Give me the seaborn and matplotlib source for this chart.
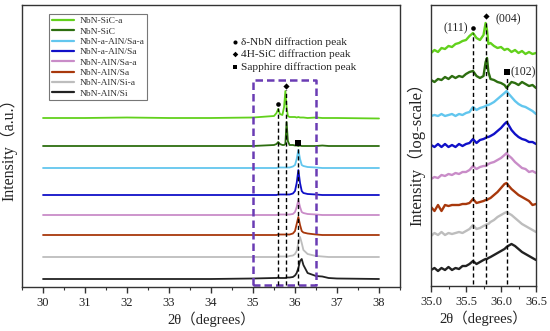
import numpy as np
import pandas as pd
import matplotlib
matplotlib.use("Agg")
import matplotlib.pyplot as plt
import seaborn as sns

sns.set_theme(style="white")
plt.rcParams['font.family'] = ['Liberation Serif', 'Noto Sans CJK SC']
plt.rcParams['axes.unicode_minus'] = False

# ---------------- data ----------------
samples = ["NbN-SiC-a", "NbN-SiC", "NbN-a-AlN/Sa-a", "NbN-a-AlN/Sa",
           "NbN-AlN/Sa-a", "NbN-AlN/Sa", "NbN-AlN/Si-a", "NbN-AlN/Si"]
colors = ["#62d11c", "#2d6e10", "#62c6ee", "#1010c8",
          "#c98cc8", "#a8380c", "#bdbdbd", "#222222"]

# left panel (stacked, a.u.)
x_left = [30.0, 31.0, 32.0, 33.0, 34.0, 35.0, 35.5, 35.56, 35.6, 35.64, 35.7, 35.74,
          35.77, 35.8, 35.83, 35.87, 35.95, 36.0, 36.04, 36.08, 36.12, 36.16, 36.2,
          36.3, 36.5, 36.65, 36.8, 37.0, 38.0]
y_left = {
    "NbN-SiC-a":      [169, 169, 169.5, 169, 169, 169.5, 171, 174, 178, 173, 172, 180, 196, 180, 171, 170, 170, 170, 169.5, 170, 169.5, 169.5, 169.5, 169, 169.5, 169, 169, 169, 168.5],
    "NbN-SiC":        [141, 141, 141, 141, 141, 141, 142, 143, 145, 143, 142, 142, 143, 165, 146, 142, 142, 141.5, 141.5, 141, 141.5, 141, 141, 141, 141, 141.5, 141, 141, 141],
    "NbN-a-AlN/Sa-a": [119, 119, 119, 119, 119, 119, 119, 119, 119.5, 119.5, 119.5, 119.5, 119.5, 119.5, 119.5, 119.5, 120.5, 122, 128, 137, 128, 122, 121, 120, 119.5, 119, 119, 119, 119],
    "NbN-a-AlN/Sa":   [92, 92, 92, 92, 92, 92, 92, 92, 92.5, 92.5, 92.5, 92.5, 92.5, 92.5, 92.5, 92.5, 93.5, 96, 104, 117, 104, 96, 94, 93, 92.5, 92, 92, 92, 92],
    "NbN-AlN/Sa-a":   [72, 72, 72, 72, 72, 72, 72, 72, 72.5, 72.5, 72.5, 72.5, 72.5, 72.5, 72.5, 72.5, 73, 75, 80, 87, 80, 75, 74, 73, 72.5, 72, 72, 72, 72],
    "NbN-AlN/Sa":     [52, 52, 52, 52, 52, 52, 52, 52, 52.5, 52.5, 52.5, 52.5, 52.5, 52.5, 52.5, 52.5, 53.5, 56, 63, 70, 62, 56, 54.5, 53.5, 52.5, 52, 52, 52, 52],
    "NbN-AlN/Si-a":   [30, 30, 30, 30, 30, 30, 30, 30, 30.5, 30.5, 30.5, 30.5, 30.5, 30.5, 30.5, 31, 31.5, 33, 36, 44, 50, 44, 37, 33, 31, 30.5, 30, 30, 30],
    "NbN-AlN/Si":     [8, 8, 8, 8, 8, 8.5, 9, 9, 9.5, 9, 9, 9, 9, 9.5, 9.5, 9.5, 10, 11.5, 14, 19, 26, 28, 22, 14, 11, 10.5, 9, 8.5, 8],
}

# right panel (log-scale, stacked)
x_right = [35.00, 35.05, 35.10, 35.15, 35.20, 35.25, 35.30, 35.35, 35.40, 35.45, 35.50,
           35.55, 35.60, 35.65, 35.70, 35.75, 35.78, 35.80, 35.82, 35.85, 35.90, 35.95,
           36.00, 36.05, 36.08, 36.10, 36.15, 36.20, 36.25, 36.30, 36.35, 36.40, 36.45, 36.50]
y_right = {
    "NbN-SiC-a":      [233, 236, 234, 238, 237, 240, 239, 242, 243, 245, 246, 250, 253, 248, 246, 251, 263, 256, 242, 243, 240, 238, 239, 236, 237, 237, 234, 236, 233, 235, 232, 234, 232, 233],
    "NbN-SiC":        [206, 204, 207, 206, 209, 207, 210, 208, 210, 209, 212, 214, 215, 210, 208, 210, 224, 228, 214, 207, 206, 204, 203, 201, 198, 200, 204, 203, 201, 204, 202, 200, 201, 198],
    "NbN-a-AlN/Sa-a": [170, 171, 170, 172, 170, 171, 172, 170, 172, 171, 173, 174, 179, 176, 178, 179, 180, 181, 181, 182, 184, 187, 190, 193, 195, 193, 189, 185, 182, 180, 179, 177, 175, 172],
    "NbN-a-AlN/Sa":   [141, 139, 142, 139, 142, 139, 141, 139, 142, 140, 142, 143, 147, 143, 146, 147, 148, 149, 149, 150, 152, 155, 158, 162, 164, 162, 156, 152, 149, 147, 146, 144, 144, 142],
    "NbN-AlN/Sa-a":   [107, 109, 108, 111, 110, 112, 111, 113, 112, 114, 114, 116, 120, 117, 119, 120, 120, 121, 122, 123, 124, 126, 128, 131, 133, 131, 128, 124, 121, 118, 117, 114, 115, 113],
    "NbN-AlN/Sa":     [79, 75, 81, 75, 81, 80, 81, 81, 81, 82, 82, 83, 87, 83, 84, 85, 86, 86, 87, 88, 91, 94, 98, 102, 103, 101, 97, 94, 91, 89, 87, 85, 81, 82],
    "NbN-AlN/Si-a":   [50, 53, 51, 54, 51, 53, 52, 53, 54, 53, 55, 57, 61, 57, 58, 60, 61, 62, 62, 64, 66, 69, 71, 73, 74, 73, 71, 68, 65, 62, 60, 58, 56, 54],
    "NbN-AlN/Si":     [16, 18, 15, 18, 16, 19, 16, 18, 17, 20, 20, 22, 25, 22, 24, 26, 27, 27, 28, 29, 31, 33, 35, 37, 39, 40, 42, 40, 37, 34, 32, 30, 28, 26],
}

# reference peak positions / marker heights
peak_x = [35.6, 35.78, 36.08]
left_marker_y = [183, 201, 144]
right_marker_y = [258, 270, 214]
right_peak_labels = ["(111)", "(004)", "(102)"]
peak_names = ["δ-NbN diffraction peak", "4H-SiC diffraction peak", "Sapphire diffraction peak"]
peak_markers = ["o", "D", "s"]
marker_sizes = [11, 10, 13]
left_xticks = [30, 31, 32, 33, 34, 35, 36, 37, 38]
right_xticks = [35.0, 35.5, 36.0, 36.5]

# ---------------- figure ----------------
fig = plt.figure(figsize=(5.5, 3.31), dpi=100)
axL = fig.add_axes([22/550, 44/331, 378/550, 282/331])
axR = fig.add_axes([431/550, 45/331, 105/550, 281/331])

spine_c = "#333333"
txt_c = "#222222"
for ax in (axL, axR):
    for s in ax.spines.values():
        s.set_color(spine_c)
        s.set_linewidth(1.0)

# left panel curves
for name, c in zip(samples, colors):
    df = pd.DataFrame({"x": x_left, "y": y_left[name]})
    sns.lineplot(data=df, x="x", y="y", color=c, lw=1.3, ax=axL,
                 label=name, sort=False, estimator=None)

axL.set_xlim(29.5, 38.5)
axL.set_ylim(0, 282)
axL.set_yticks([])
axL.set_xticks(left_xticks)
axL.set_xticklabels([str(t) for t in left_xticks], fontsize=9, color=txt_c)
axL.set_xticks(np.arange(29.5, 38.6, 0.5), minor=True)
axL.tick_params(axis="x", which="major", direction="out", length=4, width=1, color=spine_c, bottom=True, pad=3)
axL.tick_params(axis="x", which="minor", direction="out", length=2.5, width=0.8, color=spine_c, bottom=True)
axL.set_xlabel("2θ（degrees）", fontsize=10.5, labelpad=2, color=txt_c)
axL.set_ylabel("")
fig.text(9/550, 1 - 146/331, "Intensity（a.u.）", rotation=90, fontsize=11.5,
         ha="center", va="center", color=txt_c)

leg = axL.legend(loc="upper left", bbox_to_anchor=(0.072, 0.968), fontsize=6.8,
                 frameon=True, fancybox=False, handlelength=2.3, handletextpad=0.6,
                 borderpad=0.3, labelspacing=0.18, borderaxespad=0)
leg.get_frame().set_edgecolor("#555555")
leg.get_frame().set_linewidth(0.8)
for h in leg.get_lines():
    h.set_linewidth(1.6)
for t in leg.get_texts():
    t.set_color("#333333")

# purple dashed box
axL.plot([35.0, 35.0, 36.5, 36.5, 35.0], [2, 207, 207, 2, 2], ls=(0, (3, 1.6)),
         color="#6a3cb4", lw=1.8)

# black dashed reference lines + markers (left)
for px, my, mk, ms in zip(peak_x, left_marker_y, peak_markers, marker_sizes):
    axL.plot([px, px], [2, my - 4], ls=(0, (3, 2)), color="black", lw=1.0)
    axL.scatter([px], [my], marker=mk, s=ms, color="black", zorder=5, linewidths=0)

# annotation key
key_y = [245, 233, 220]
for ky, mk, txt, ms in zip(key_y, peak_markers, peak_names, marker_sizes):
    axL.scatter([34.58], [ky], marker=mk, s=ms * 0.8, color="black", zorder=5, linewidths=0)
    axL.text(34.72, ky, txt, fontsize=8.2, va="center", ha="left", color=txt_c)

# right panel curves
for name, c in zip(samples, colors):
    df = pd.DataFrame({"x": x_right, "y": y_right[name]})
    sns.lineplot(data=df, x="x", y="y", color=c, lw=1.7, ax=axR,
                 sort=False, estimator=None, legend=False)

for px, my, mk, ms in zip(peak_x, right_marker_y, peak_markers, marker_sizes):
    axR.plot([px, px], [2, my - 5], ls=(0, (3, 2)), color="black", lw=1.0)
    axR.scatter([px], [my], marker=mk, s=ms, color="black", zorder=5, linewidths=0)

axR.text(35.53, right_marker_y[0], right_peak_labels[0], fontsize=8.5, ha="right", va="center", color=txt_c)
axR.text(35.92, right_marker_y[1] - 3, right_peak_labels[1], fontsize=8.5, ha="left", va="center", color=txt_c)
axR.text(36.14, right_marker_y[2], right_peak_labels[2], fontsize=8.5, ha="left", va="center", color=txt_c)

axR.set_xlim(35.0, 36.5)
axR.set_ylim(0, 281)
axR.set_yticks([])
axR.set_xticks(right_xticks)
axR.set_xticklabels(["35.0", "35.5", "36.0", "36.5"], fontsize=9, color=txt_c)
axR.set_xticks(np.arange(35.0, 36.51, 0.25), minor=True)
axR.tick_params(axis="x", which="major", direction="out", length=4, width=1, color=spine_c, bottom=True, pad=3)
axR.tick_params(axis="x", which="minor", direction="out", length=2.5, width=0.8, color=spine_c, bottom=True)
axR.set_xlabel("2θ（degrees）", fontsize=10.5, labelpad=2, color=txt_c)
axR.set_ylabel("")
fig.text(416/550, 1 - 150/331, "Intensity（log-scale）", rotation=90, fontsize=12,
         ha="center", va="center", color=txt_c)

fig.savefig("out.png", dpi=100)
